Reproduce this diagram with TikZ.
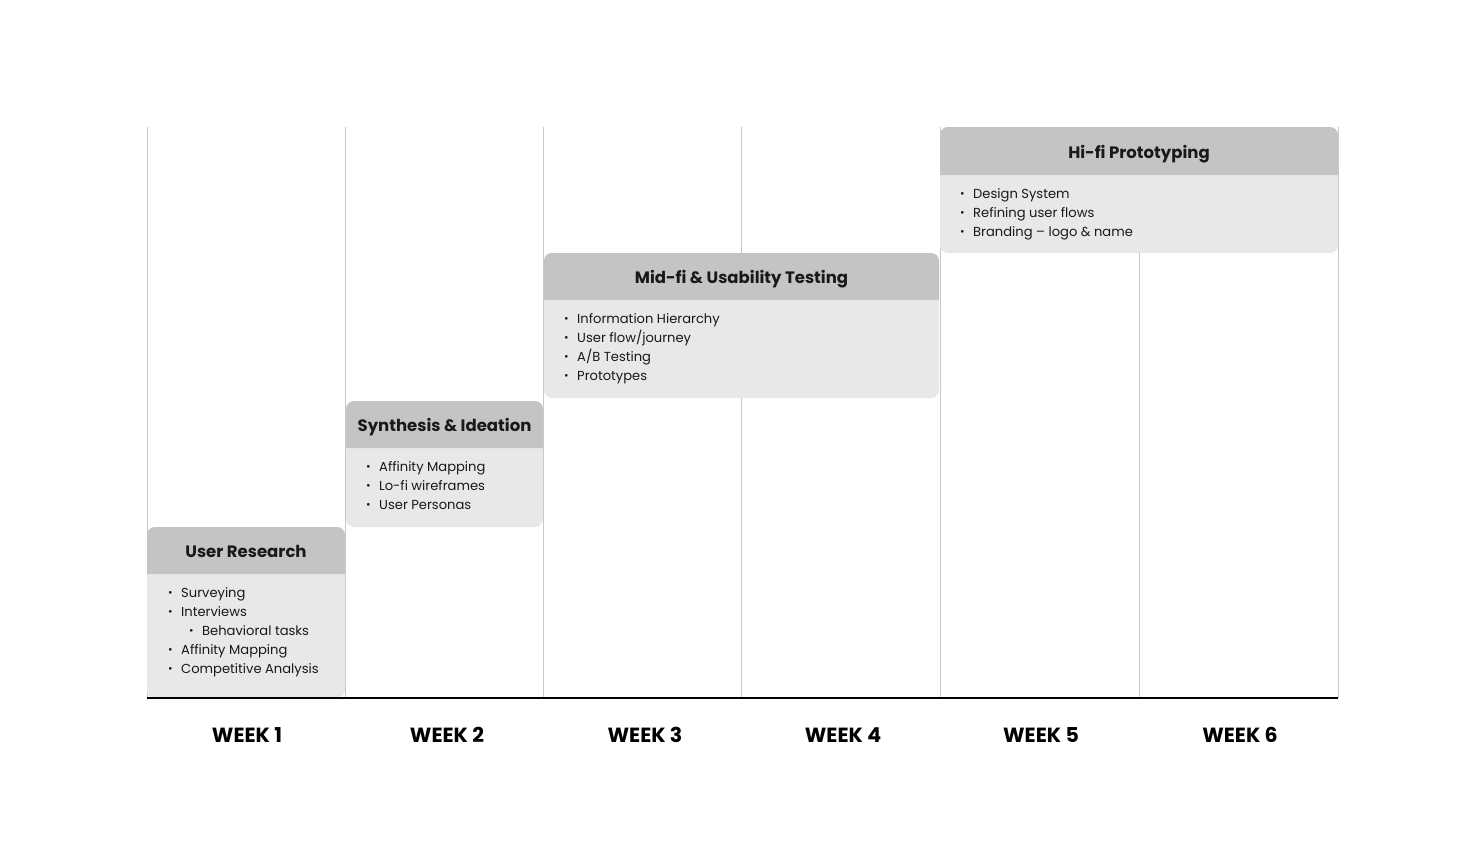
\documentclass[tikz,border=0pt]{standalone}
\usepackage{fontspec}
\setmainfont{Poppins}
\begin{document}
\begin{tikzpicture}[x=1pt,y=-1pt,
  grid/.style={draw=black!22,line width=0.8pt},
  axis/.style={draw=black,line width=2pt},
  body/.style={fill=black!9},
  hdr/.style={fill=black!23},
  htxt/.style={font=\fontsize{16.5}{18}\selectfont\bfseries,text=black!90,anchor=base,inner sep=0pt},
  itxt/.style={font=\fontsize{13.1}{15}\selectfont,text=black!90,anchor=base west,inner sep=0pt},
  bul/.style={font=\fontsize{11}{12}\selectfont,text=black!90,anchor=base west,inner sep=0pt},
  wk/.style={font=\fontsize{20.5}{22}\selectfont\bfseries,text=black,anchor=base,inner sep=0pt}]
\useasboundingbox (0,0) rectangle (1476,847);
% grid lines
\foreach \x in {147,345,543,741,940,1139,1338}
  \draw[grid] (\x,127) -- (\x,698);
% week labels
\foreach \x/\n in {247/1,447/2,645/3,843/4,1041/5,1240/6}
  \node[wk] (w\n) at (\x,742) {WEEK \n};
% phase boxes
\newcommand{\phasebox}[6]{% x1,y1,x2,yh,y2,name
  \fill[body,rounded corners=8pt] (#1,#2) rectangle (#3,#5);
  \fill[hdr] (#1,#4) [rounded corners=8pt] -- (#1,#2) -- (#3,#2) [sharp corners] -- (#3,#4) -- cycle;
  \coordinate (#6) at ({(#1+#3)/2},{(#2+#4)/2+7});
}
% User Research
\phasebox{147}{527}{345}{574}{698}{ur}
\node[htxt] (urt) at (ur) {User Research};
\foreach \t/\y/\i in {{Surveying}/597/0,{Interviews}/616/0,{Behavioral tasks}/635/1,{Affinity Mapping}/654/0,{Competitive Analysis}/673/0}{
  \node[bul] at ({168+\i*21},\y-0.5) {•};
  \node[itxt] at ({181+\i*21},\y) {\t};
}
% Synthesis
\phasebox{346}{401}{543}{448}{527}{si}
\node[htxt] (sit) at (si) {Synthesis \& Ideation};
\foreach \t/\y in {{Affinity Mapping}/471,{Lo-fi wireframes}/490,{User Personas}/509}{
  \node[bul] at (366,\y-0.5) {•};
  \node[itxt] at (379,\y) {\t};
}
% Mid-fi
\phasebox{544}{253}{939}{300}{398}{mf}
\node[htxt] (mft) at (mf) {Mid-fi \& Usability Testing};
\foreach \t/\y in {{Information Hierarchy}/323,{User flow/journey}/342,{A/B Testing}/361,{Prototypes}/380}{
  \node[bul] at (564,\y-0.5) {•};
  \node[itxt] at (577,\y) {\t};
}
% Hi-fi
\phasebox{940}{127}{1338}{175}{253}{hf}
\node[htxt] (hft) at (hf) {Hi-fi Prototyping};
\foreach \t/\y in {{Design System}/198,{Refining user flows}/217,{Branding – logo \& name}/236}{
  \node[bul] at (960,\y-0.5) {•};
  \node[itxt] at (973,\y) {\t};
}
% axis
\draw[axis] (147,698) -- (1338,698);
\end{tikzpicture}
\end{document}
